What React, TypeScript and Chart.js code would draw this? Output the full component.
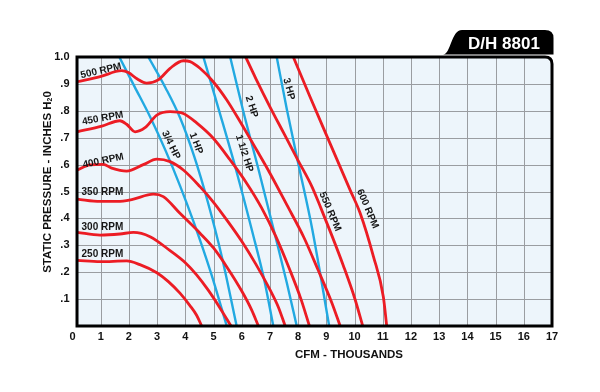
import React, { useEffect, useRef } from "react";
import { Chart, registerables } from "chart.js";

Chart.register(...registerables);

// ---- Axis ticks ----
const X_TICKS = [0, 1, 2, 3, 4, 5, 6, 7, 8, 9, 10, 11, 12, 13, 14, 15, 16, 17];
const Y_TICK_LABELS = ["", ".1", ".2", ".3", ".4", ".5", ".6", ".7", ".8", ".9", "1.0"];

// ---- Fan RPM curves: [CFM (thousands), static pressure (in. H2O)] ----
const rpm250 = [[0.17, 0.244], [0.98, 0.239], [1.92, 0.242], [2.39, 0.228], [2.99, 0.198], [3.4, 0.165], [3.81, 0.122], [4.17, 0.075], [4.4, 0.04], [4.58, 0]];
const rpm300 = [[0.17, 0.348], [0.98, 0.338], [1.68, 0.342], [2.16, 0.348], [2.75, 0.332], [3.46, 0.28], [4.0, 0.235], [4.4, 0.19], [4.8, 0.135], [5.2, 0.072], [5.62, 0]];
const rpm350 = [[0.17, 0.472], [0.98, 0.463], [1.6, 0.463], [2.1, 0.47], [2.87, 0.49], [3.22, 0.481], [3.81, 0.419], [4.52, 0.345], [5.0, 0.29], [5.5, 0.215], [6.0, 0.13], [6.35, 0.06], [6.59, 0]];
const rpm400 = [[0.17, 0.58], [0.62, 0.599], [1.09, 0.601], [1.39, 0.587], [1.92, 0.576], [2.51, 0.6], [2.99, 0.62], [3.46, 0.611], [3.93, 0.58], [4.52, 0.518], [5.0, 0.46], [5.5, 0.39], [6.0, 0.315], [6.5, 0.23], [7.0, 0.135], [7.3, 0.07], [7.54, 0]];
const rpm450 = [[0.17, 0.722], [1.04, 0.743], [1.68, 0.763], [1.92, 0.75], [2.22, 0.722], [2.57, 0.737], [2.99, 0.784], [3.46, 0.797], [3.93, 0.79], [4.4, 0.755], [4.99, 0.698], [5.59, 0.617], [6.18, 0.53], [6.7, 0.44], [7.2, 0.335], [7.7, 0.21], [8.1, 0.1], [8.4, 0]];
const rpm500 = [[0.17, 0.908], [0.98, 0.927], [1.74, 0.949], [1.98, 0.942], [2.3, 0.918], [2.63, 0.903], [3.04, 0.915], [3.46, 0.958], [3.93, 0.986], [4.17, 0.983], [4.52, 0.958], [4.99, 0.908], [5.47, 0.84], [5.94, 0.76], [6.53, 0.654], [7.0, 0.568], [7.6, 0.45], [8.2, 0.33], [8.7, 0.21], [9.2, 0.085], [9.49, 0]];
const rpm550 = [[6.05, 1.02], [6.5, 0.92], [7.0, 0.815], [7.5, 0.715], [8.0, 0.615], [8.48, 0.52], [8.8, 0.44], [9.2, 0.335], [9.6, 0.225], [10.0, 0.105], [10.29, 0]];
const rpm600 = [[7.75, 1.02], [8.42, 0.852], [9.13, 0.679], [9.84, 0.506], [10.2, 0.419], [10.67, 0.258], [11.02, 0.109], [11.14, 0]];

// ---- Horsepower lines ----
const hp075 = [[1.66, 1.0], [2.2, 0.89], [2.75, 0.778], [3.3, 0.652], [3.81, 0.522], [4.3, 0.385], [4.9, 0.2], [5.47, 0]];
const hp1 = [[2.69, 1.0], [3.3, 0.885], [3.81, 0.775], [4.3, 0.635], [4.8, 0.46], [5.3, 0.255], [5.82, 0]];
const hp15 = [[4.64, 1.0], [5.2, 0.8], [5.8, 0.58], [6.4, 0.34], [6.8, 0.17], [7.12, 0]];
const hp2 = [[5.59, 1.0], [6.05, 0.8], [6.6, 0.58], [7.2, 0.33], [7.6, 0.16], [7.95, 0]];
const hp3 = [[7.24, 1.0], [7.6, 0.805], [8.0, 0.606], [8.5, 0.36], [9.1, 0]];

const RPM_SERIES = [rpm250, rpm300, rpm350, rpm400, rpm450, rpm500, rpm550, rpm600];
const HP_SERIES = [hp075, hp1, hp15, hp2, hp3];

// ---- Curve label annotations (data coordinates) ----
const CURVE_LABELS = [
  { text: "500 RPM", x: 1.01, y: 0.948, angle: -13 },
  { text: "450 RPM", x: 1.07, y: 0.772, angle: -10 },
  { text: "400 RPM", x: 1.09, y: 0.614, angle: -12 },
  { text: "350 RPM", x: 1.06, y: 0.499, angle: 0 },
  { text: "300 RPM", x: 1.06, y: 0.366, angle: 0 },
  { text: "250 RPM", x: 1.06, y: 0.265, angle: 0 },
  { text: "550 RPM", x: 9.13, y: 0.425, angle: 67 },
  { text: "600 RPM", x: 10.46, y: 0.435, angle: 67 },
  { text: "3/4 HP", x: 3.49, y: 0.673, angle: 64 },
  { text: "1 HP", x: 4.38, y: 0.679, angle: 69 },
  { text: "1 1/2 HP", x: 6.09, y: 0.642, angle: 72 },
  { text: "2 HP", x: 6.35, y: 0.815, angle: 72 },
  { text: "3 HP", x: 7.67, y: 0.881, angle: 75 },
];

const TITLE = "D/H 8801";
const X_TITLE = "CFM - THOUSANDS";
const Y_TITLE_MAIN = "STATIC PRESSURE - INCHES H";
const Y_TITLE_SUB = "2";
const Y_TITLE_END = "0";

const FONT = 'Arial, "Liberation Sans", Helvetica, sans-serif';
const RED = "#ec1c24";
const BLUE = "#22a9e1";
const FRAME_START = 0.16;

function framePath(ctx: CanvasRenderingContext2D, L: number, T: number, R: number, B: number, r: number) {
  ctx.beginPath();
  ctx.moveTo(L, B);
  ctx.lineTo(L, T);
  ctx.lineTo(R - r, T);
  ctx.quadraticCurveTo(R, T, R, T + r);
  ctx.lineTo(R, B);
  ctx.closePath();
}

const decorPlugin = {
  id: "decor",
  beforeDatasetsDraw(chart: any) {
    const { ctx, chartArea, scales } = chart;
    const xs = scales.x, ys = scales.y;
    const L = xs.getPixelForValue(FRAME_START);
    const R = chartArea.right, T = chartArea.top, B = chartArea.bottom;
    ctx.save();
    framePath(ctx, L, T, R, B, 7);
    ctx.fillStyle = "#edf5fb";
    ctx.fill();
    ctx.strokeStyle = "#9a9da1";
    ctx.lineWidth = 1;
    ctx.beginPath();
    X_TICKS.slice(1, -1).forEach((v) => {
      const px = Math.round(xs.getPixelForValue(v)) + 0.5;
      ctx.moveTo(px, T);
      ctx.lineTo(px, B);
    });
    Y_TICK_LABELS.forEach((_, i) => {
      if (i === 0 || i === Y_TICK_LABELS.length - 1) return;
      const py = Math.round(ys.getPixelForValue(i / 10)) + 0.5;
      ctx.moveTo(L, py);
      ctx.lineTo(R, py);
    });
    ctx.stroke();
    ctx.restore();
  },
  afterDatasetsDraw(chart: any) {
    const { ctx, chartArea, scales } = chart;
    const xs = scales.x, ys = scales.y;
    const L = xs.getPixelForValue(FRAME_START);
    const R = chartArea.right, T = chartArea.top, B = chartArea.bottom;
    ctx.save();

    // curve labels
    ctx.fillStyle = "#151515";
    ctx.font = `bold 10px ${FONT}`;
    ctx.textAlign = "center";
    ctx.textBaseline = "middle";
    CURVE_LABELS.forEach((lb) => {
      ctx.save();
      ctx.translate(xs.getPixelForValue(lb.x), ys.getPixelForValue(lb.y));
      ctx.rotate((lb.angle * Math.PI) / 180);
      ctx.fillText(lb.text, 0, 0);
      ctx.restore();
    });

    // frame border
    ctx.lineWidth = 3;
    ctx.strokeStyle = "#000";
    framePath(ctx, L, T, R, B, 7);
    ctx.stroke();

    // title tab
    ctx.beginPath();
    ctx.moveTo(443, 54.5);
    ctx.bezierCurveTo(451, 54.5, 451, 30, 462, 30);
    ctx.lineTo(545, 30);
    ctx.quadraticCurveTo(553.5, 30, 553.5, 38);
    ctx.lineTo(553.5, 54.5);
    ctx.closePath();
    ctx.fillStyle = "#000";
    ctx.fill();
    ctx.fillStyle = "#fff";
    ctx.font = `bold 17px ${FONT}`;
    ctx.textAlign = "center";
    ctx.textBaseline = "middle";
    ctx.fillText(TITLE, 504, 44);

    // x title
    ctx.fillStyle = "#111";
    ctx.font = `bold 11.5px ${FONT}`;
    ctx.fillText(X_TITLE, 349, 355);

    // y title
    ctx.save();
    ctx.translate(48, 182);
    ctx.rotate(-Math.PI / 2);
    const big = `bold 11.5px ${FONT}`;
    const small = `bold 7px ${FONT}`;
    ctx.font = big;
    const w1 = ctx.measureText(Y_TITLE_MAIN).width;
    const w3 = ctx.measureText(Y_TITLE_END).width;
    ctx.font = small;
    const w2 = ctx.measureText(Y_TITLE_SUB).width;
    let x = -(w1 + w2 + w3) / 2;
    ctx.textAlign = "left";
    ctx.font = big;
    ctx.fillText(Y_TITLE_MAIN, x, 0);
    x += w1;
    ctx.font = small;
    ctx.fillText(Y_TITLE_SUB, x, 2.5);
    x += w2;
    ctx.font = big;
    ctx.fillText(Y_TITLE_END, x, 0);
    ctx.restore();

    ctx.restore();
  },
};

export default function App() {
  const canvasRef = useRef<HTMLCanvasElement | null>(null);

  useEffect(() => {
    const canvas = canvasRef.current;
    if (!canvas) return;
    const toPts = (arr: number[][]) => arr.map(([x, y]) => ({ x, y }));
    const datasets: any[] = [];
    RPM_SERIES.forEach((s) =>
      datasets.push({
        data: toPts(s),
        borderColor: RED,
        borderWidth: 2.8,
        pointRadius: 0,
        fill: false,
        cubicInterpolationMode: "monotone",
        order: 0,
      })
    );
    HP_SERIES.forEach((s) =>
      datasets.push({
        data: toPts(s),
        borderColor: BLUE,
        borderWidth: 2.4,
        pointRadius: 0,
        fill: false,
        cubicInterpolationMode: "monotone",
        order: 1,
      })
    );

    const chart = new Chart(canvas, {
      type: "line",
      data: { datasets },
      options: {
        animation: false,
        responsive: false,
        events: [],
        layout: { padding: { left: 0, right: 48, top: 57, bottom: 0 } },
        plugins: { legend: { display: false }, tooltip: { enabled: false } },
        scales: {
          x: {
            type: "linear",
            min: 0,
            max: 17,
            afterBuildTicks: (scale: any) => {
              scale.ticks = X_TICKS.map((v) => ({ value: v }));
            },
            afterFit: (scale: any) => {
              scale.height = 66;
            },
            ticks: {
              autoSkip: false,
              maxRotation: 0,
              padding: 4,
              color: "#111",
              font: { family: FONT, size: 11, weight: "bold" },
              callback: (v: any) => String(v),
            },
            grid: { display: false, drawTicks: false },
            border: { display: false },
          },
          y: {
            type: "linear",
            min: 0,
            max: 1,
            afterBuildTicks: (scale: any) => {
              scale.ticks = Y_TICK_LABELS.map((_, i) => ({ value: i / 10 }));
            },
            afterFit: (scale: any) => {
              scale.width = 72.5;
            },
            ticks: {
              autoSkip: false,
              padding: 3,
              color: "#111",
              font: { family: FONT, size: 11, weight: "bold" },
              callback: (v: any) => Y_TICK_LABELS[Math.round(Number(v) * 10)],
            },
            grid: { display: false, drawTicks: false },
            border: { display: false },
          },
        },
      },
      plugins: [decorPlugin],
    });
    return () => chart.destroy();
  }, []);

  return (
    <div style={{ position: "absolute", left: 0, top: 0, width: 600, height: 392, background: "#fff" }}>
      <canvas ref={canvasRef} width={600} height={392} style={{ display: "block" }} />
    </div>
  );
}
